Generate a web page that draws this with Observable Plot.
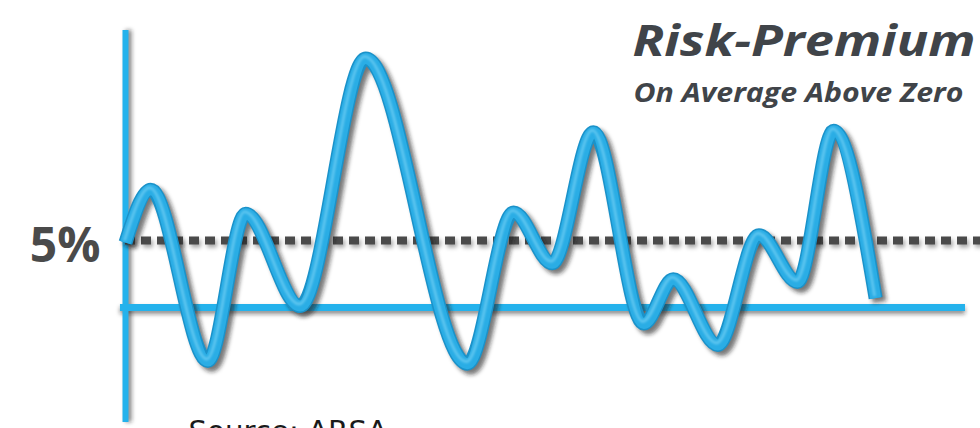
<!DOCTYPE html>
<html><head><meta charset="utf-8">
<script src="https://cdn.jsdelivr.net/npm/d3@7"></script>
<script src="https://cdn.jsdelivr.net/npm/@observablehq/plot@0.6"></script>
<style>
html,body{margin:0;padding:0;background:#fff;overflow:hidden}
#chart svg [aria-label^="y-axis"] text{font-family:"Open Sans",sans-serif;font-weight:700;font-size:48px;fill:#4a4a4a;translate:0px 6px}
</style></head><body><div id="chart"></div>
<script>
// period index (unlabelled horizontal axis) and risk premium in %
const period  = [0, 3.0, 9.8, 14.3, 20.8, 28.6, 40.7, 46.2, 50.8, 55.7, 61.7, 65.2, 70.5, 75.4, 80.0, 84.3, 89.3];
const premium = [4.85, 8.8, -4.0, 7.0, 0.1, 18.6, -4.2, 7.1, 3.3, 13.1, -1.2, 2.1, -2.8, 5.4, 1.9, 13.2, 0.7];
const yTicks = [5];
const yTickLabels = ["5%"];
const titleText = "Risk-Premium";
const subtitleText = "On Average Above Zero";
const sourceText = "Source: ARSA";

const data = period.map((p, i) => ({period: p, premium: premium[i]}));
const lineOpts = {x: "period", y: "premium", curve: "monotone-x", strokeLinecap: "butt", strokeLinejoin: "round"};

const chart = Plot.plot({
  width: 980, height: 428,
  marginLeft: 125, marginRight: 15, marginTop: 30, marginBottom: 6,
  style: {background: "white"},
  x: {domain: [0, 100], axis: null},
  y: {domain: [-8.6, 20.7], ticks: yTicks, tickFormat: d => yTickLabels[yTicks.indexOf(d)], tickSize: 0, tickPadding: 25, label: null},
  marks: [
    // axis shadows
    Plot.ruleX([0], {dx: 3, stroke: "#222", strokeOpacity: 0.55, strokeWidth: 6, ariaDescription: "shadow"}),
    Plot.ruleY([0], {x1: -0.6, x2: 100, dy: 3, stroke: "#222", strokeOpacity: 0.5, strokeWidth: 7, ariaDescription: "shadow"}),
    // axes
    Plot.ruleX([0], {stroke: "#24b2ec", strokeWidth: 6}),
    Plot.ruleY([0], {x1: -0.6, x2: 100, stroke: "#24b2ec", strokeWidth: 7}),
    // 5% dotted line
    Plot.ruleY(yTicks, {x1: 0, x2: 102, dx: 2, dy: 3, stroke: "#000", strokeOpacity: 0.35, strokeWidth: 8, strokeDasharray: "10,6", ariaDescription: "shadow"}),
    Plot.ruleY(yTicks, {x1: 0, x2: 102, stroke: "#4a4a4a", strokeWidth: 8, strokeDasharray: "10,6"}),
    // tube line
    Plot.line(data, {...lineOpts, dx: 4, dy: 4, stroke: "#1a1a1a", strokeOpacity: 0.6, strokeWidth: 14, ariaDescription: "shadow"}),
    Plot.line(data, {...lineOpts, stroke: "#1b92c9", strokeWidth: 14}),
    Plot.line(data, {...lineOpts, stroke: "#2aade5", strokeWidth: 11}),
    Plot.line(data, {...lineOpts, dx: -1, dy: -2, stroke: "#7fd6f7", strokeOpacity: 0.6, strokeWidth: 3, ariaDescription: "highlight"}),
    // texts
    Plot.text([titleText], {text: d => d, frameAnchor: "top-right", textAnchor: "end", lineAnchor: "bottom", dx: 10, dy: 25,
      fontFamily: "Open Sans", fontWeight: 700, fontStyle: "italic", fontSize: 43, fill: "#404449", ariaDescription: "title"}),
    Plot.text([subtitleText], {text: d => d, frameAnchor: "top-right", textAnchor: "end", lineAnchor: "bottom", dx: -2, dy: 71,
      fontFamily: "Open Sans", fontWeight: 700, fontStyle: "italic", fontSize: 26, fill: "#404449", ariaDescription: "subtitle"}),
    Plot.text([sourceText], {text: d => d, frameAnchor: "bottom-left", textAnchor: "start", lineAnchor: "bottom", dx: 63, dy: 18,
      fontFamily: "DejaVu Sans", fontSize: 28, fill: "#1a1a1a", ariaDescription: "source"})
  ]
});
document.getElementById("chart").appendChild(chart);

const svg = d3.select(chart);
const defs = svg.insert("defs", ":first-child");
defs.append("filter").attr("id", "softshadow")
  .attr("filterUnits", "userSpaceOnUse").attr("x", 0).attr("y", 0).attr("width", 980).attr("height", 428)
  .append("feGaussianBlur").attr("stdDeviation", 2);
defs.append("filter").attr("id", "softlight")
  .attr("filterUnits", "userSpaceOnUse").attr("x", 0).attr("y", 0).attr("width", 980).attr("height", 428)
  .append("feGaussianBlur").attr("stdDeviation", 1);
svg.selectAll('[aria-description="shadow"]').attr("filter", "url(#softshadow)");
svg.selectAll('[aria-description="highlight"]').attr("filter", "url(#softlight)");
svg.selectAll('[aria-description="title"] text').attr("textLength", 343).attr("lengthAdjust", "spacingAndGlyphs");
svg.selectAll('[aria-description="subtitle"] text').attr("textLength", 330).attr("lengthAdjust", "spacingAndGlyphs");
svg.selectAll('[aria-description="source"] text').attr("textLength", 199).attr("lengthAdjust", "spacingAndGlyphs");
</script></body></html>
